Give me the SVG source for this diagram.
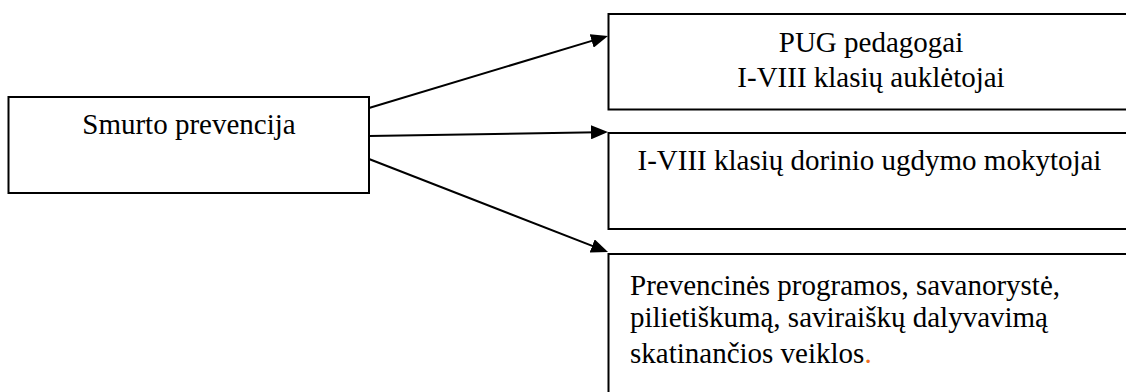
<svg xmlns="http://www.w3.org/2000/svg" width="1126" height="392" viewBox="0 0 1126 392">
  <style>
    .box { fill: #ffffff; stroke: #000000; stroke-width: 2; }
    .conn { stroke: #000000; stroke-width: 2; fill: none; }
    .t { font-family: "Liberation Serif", "Times New Roman", serif; font-size: 29px; fill: #000000; }
    .c { text-anchor: middle; }
  </style>
  <defs>
    <marker id="arrow" markerUnits="userSpaceOnUse" markerWidth="17" markerHeight="14" refX="7" refY="7" orient="auto">
      <path d="M0,0 L17,7 L0,14 z" fill="#000000"/>
    </marker>
  </defs>
  <rect width="1126" height="392" fill="#ffffff"/>
  <g id="connectors">
    <line class="conn" x1="369" y1="108" x2="598.4" y2="38.9" marker-end="url(#arrow)"/>
    <line class="conn" x1="369" y1="136" x2="598" y2="132.2" marker-end="url(#arrow)"/>
    <line class="conn" x1="369" y1="159" x2="598.7" y2="248.4" marker-end="url(#arrow)"/>
  </g>
  <g id="node-smurto">
    <rect class="box" x="8.5" y="97" width="360.5" height="96"/>
    <text class="t c" x="189" y="134">Smurto prevencija</text>
  </g>
  <g id="node-pug">
    <rect class="box" x="608.5" y="14" width="530" height="95.5"/>
    <text class="t c" x="871" y="52">PUG pedagogai</text>
    <text class="t c" x="871" y="86.5">I-VIII klasių auklėtojai</text>
  </g>
  <g id="node-dorinio">
    <rect class="box" x="608.5" y="133" width="530" height="96"/>
    <text class="t" x="637.5" y="170">I-VIII klasių dorinio ugdymo mokytojai</text>
  </g>
  <g id="node-programos">
    <rect class="box" x="608.5" y="254" width="530" height="160"/>
    <text class="t" x="630" y="295">Prevencinės programos, savanorystė,</text>
    <text class="t" x="630" y="327">pilietiškumą, saviraiškų dalyvavimą</text>
    <text class="t" x="630" y="363">skatinančios veiklos<tspan fill="#f07020">.</tspan></text>
  </g>
</svg>
